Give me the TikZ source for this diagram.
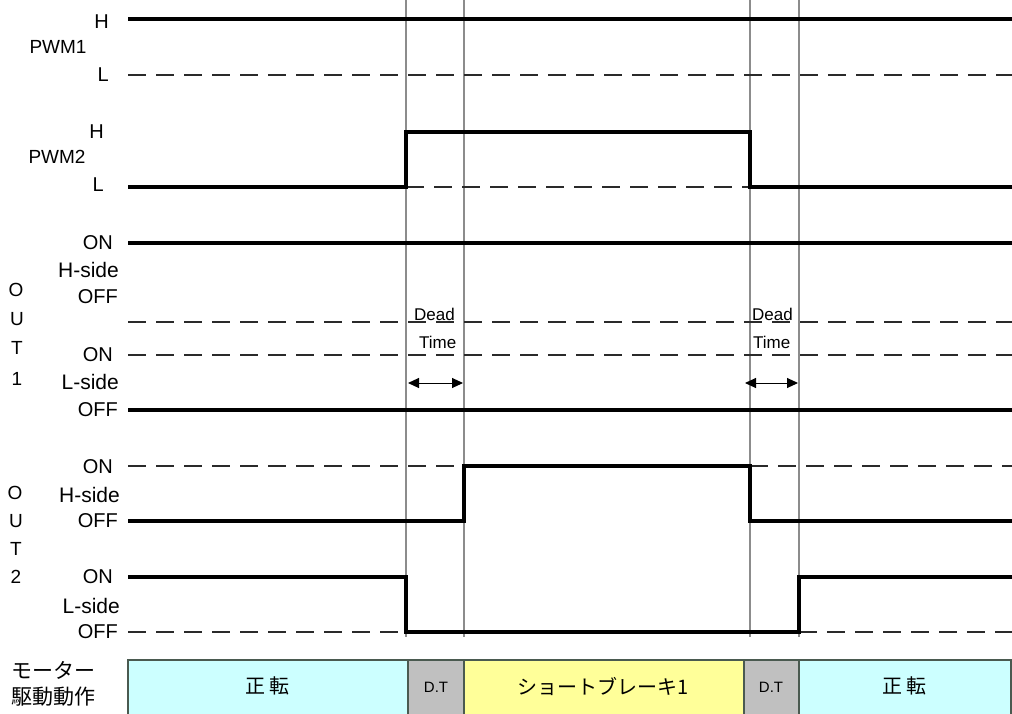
\documentclass[tikz,border=0pt]{standalone}
\usepackage{fontspec}
\setmainfont{Liberation Sans}
\newfontfamily\jp{Noto Sans CJK JP}
\usetikzlibrary{arrows.meta}
\definecolor{barcyan}{HTML}{CCFFFF}
\definecolor{bargray}{HTML}{C0C0C0}
\definecolor{baryellow}{HTML}{FFFF99}
\definecolor{barline}{HTML}{4A5A50}
\definecolor{vgray}{HTML}{8C8C8C}
\definecolor{dashgray}{HTML}{2A2A2A}
\tikzset{
  wave/.style={line width=3.3pt, black, line join=miter},
  lowdash/.style={line width=2.3pt, dashgray, dash pattern=on 18pt off 10pt},
  vline/.style={line width=1.8pt, vgray},
  lvl/.style={anchor=east, inner sep=0pt, font=\fontsize{20}{22}\selectfont},
  side/.style={anchor=east, inner sep=0pt, font=\fontsize{21}{23}\selectfont},
  sig/.style={inner sep=0pt, font=\fontsize{19}{21}\selectfont},
  outl/.style={inner sep=0pt, font=\fontsize{19}{21}\selectfont},
  dtlabel/.style={inner sep=0pt, anchor=west, font=\fontsize{17}{19}\selectfont},
  dtarrow/.style={{Triangle[length=11pt,width=10pt]}-{Triangle[length=11pt,width=10pt]}, line width=1pt},
  barbox/.style={draw=barline, line width=1.2pt},
  bartext/.style={inner sep=0pt, font=\jp\fontsize{20}{22}\selectfont},
  dttext/.style={inner sep=0pt, font=\fontsize{15}{17}\selectfont}
}
\begin{document}
\begin{tikzpicture}[x=1pt,y=-1pt]
\useasboundingbox (0,0) rectangle (1012,713);
\fill[white] (0,0) rectangle (1012,713);

% vertical reference lines
\foreach \xx in {406,464,750,799} \draw[vline] (\xx,0) -- (\xx,637);

% PWM1
\node[lvl] (p1h) at (109,22) {H};
\node[sig] (p1) at (58,47) {PWM1};
\node[lvl] (p1l) at (109,75) {L};
\draw[lowdash] (128,75) -- (1012,75);
\draw[wave] (128,19) -- (1012,19);

% PWM2
\node[lvl] (p2h) at (104,132) {H};
\node[sig] (p2) at (57,157) {PWM2};
\node[lvl] (p2l) at (104,185) {L};
\draw[lowdash] (406,187) -- (750,187);
\draw[wave] (128,187) -- (406,187) -- (406,132) -- (750,132) -- (750,187) -- (1012,187);

% OUT1
\node[outl] (o1a) at (16,290) {O};
\node[outl] (o1b) at (17,319) {U};
\node[outl] (o1c) at (17,348) {T};
\node[outl] (o1d) at (17,379) {1};
\node[lvl] (o1hon) at (113,243) {ON};
\node[side] (o1hs) at (119,270) {H-side};
\node[lvl] (o1hoff) at (118,297) {OFF};
\node[lvl] (o1lon) at (113,355) {ON};
\node[side] (o1ls) at (119,382) {L-side};
\node[lvl] (o1loff) at (118,410) {OFF};
\draw[wave] (128,243) -- (1012,243);
\draw[lowdash] (128,322) -- (1012,322);
\draw[lowdash] (128,355) -- (1012,355);
\draw[wave] (128,410) -- (1012,410);

% Dead time labels
\node[dtlabel] (d1a) at (414,314) {Dead};
\node[dtlabel] (d1b) at (419,342) {Time};
\node[dtlabel] (d2a) at (752,314) {Dead};
\node[dtlabel] (d2b) at (753,342) {Time};
\coordinate (a1l) at (408,383);
\coordinate (a1r) at (463,383);
\coordinate (a2l) at (745,383);
\coordinate (a2r) at (798,383);
\draw[dtarrow] (a1l) -- (a1r);
\draw[dtarrow] (a2l) -- (a2r);

% OUT2
\node[outl] (o2a) at (15,493) {O};
\node[outl] (o2b) at (16,521) {U};
\node[outl] (o2c) at (16,549) {T};
\node[outl] (o2d) at (16,577) {2};
\node[lvl] (o2hon) at (113,467) {ON};
\node[side] (o2hs) at (120,495) {H-side};
\node[lvl] (o2hoff) at (118,521) {OFF};
\node[lvl] (o2lon) at (113,577) {ON};
\node[side] (o2ls) at (120,606) {L-side};
\node[lvl] (o2loff) at (118,632) {OFF};
\draw[lowdash] (128,466) -- (464,466);
\draw[lowdash] (750,466) -- (1012,466);
\draw[wave] (128,521) -- (464,521) -- (464,466) -- (750,466) -- (750,521) -- (1012,521);
\draw[lowdash] (128,632) -- (406,632);
\draw[lowdash] (799,632) -- (1012,632);
\draw[wave] (128,577) -- (406,577) -- (406,632) -- (799,632) -- (799,577) -- (1012,577);

% bottom bar
\node[anchor=west, inner sep=0pt, font=\jp\fontsize{21}{23}\selectfont] (m1) at (11,670) {モーター};
\node[anchor=west, inner sep=0pt, font=\jp\fontsize{21}{23}\selectfont] (m2) at (11,697) {駆動動作};
\draw[barbox, fill=barcyan] (128,660) rectangle (408,720);
\draw[barbox, fill=bargray] (408,660) rectangle (464,720);
\draw[barbox, fill=baryellow] (464,660) rectangle (744,720);
\draw[barbox, fill=bargray] (744,660) rectangle (799,720);
\draw[barbox, fill=barcyan] (799,660) rectangle (1011,720);
\node[bartext] (b1) at (267,686) {正\kern4pt 転};
\node[dttext] (b2) at (436,687) {D.T};
\node[bartext] (b3) at (603,686) {ショートブレーキ1};
\node[dttext] (b4) at (771,687) {D.T};
\node[bartext] (b5) at (904,686) {正\kern4pt 転};
\end{tikzpicture}
\end{document}
